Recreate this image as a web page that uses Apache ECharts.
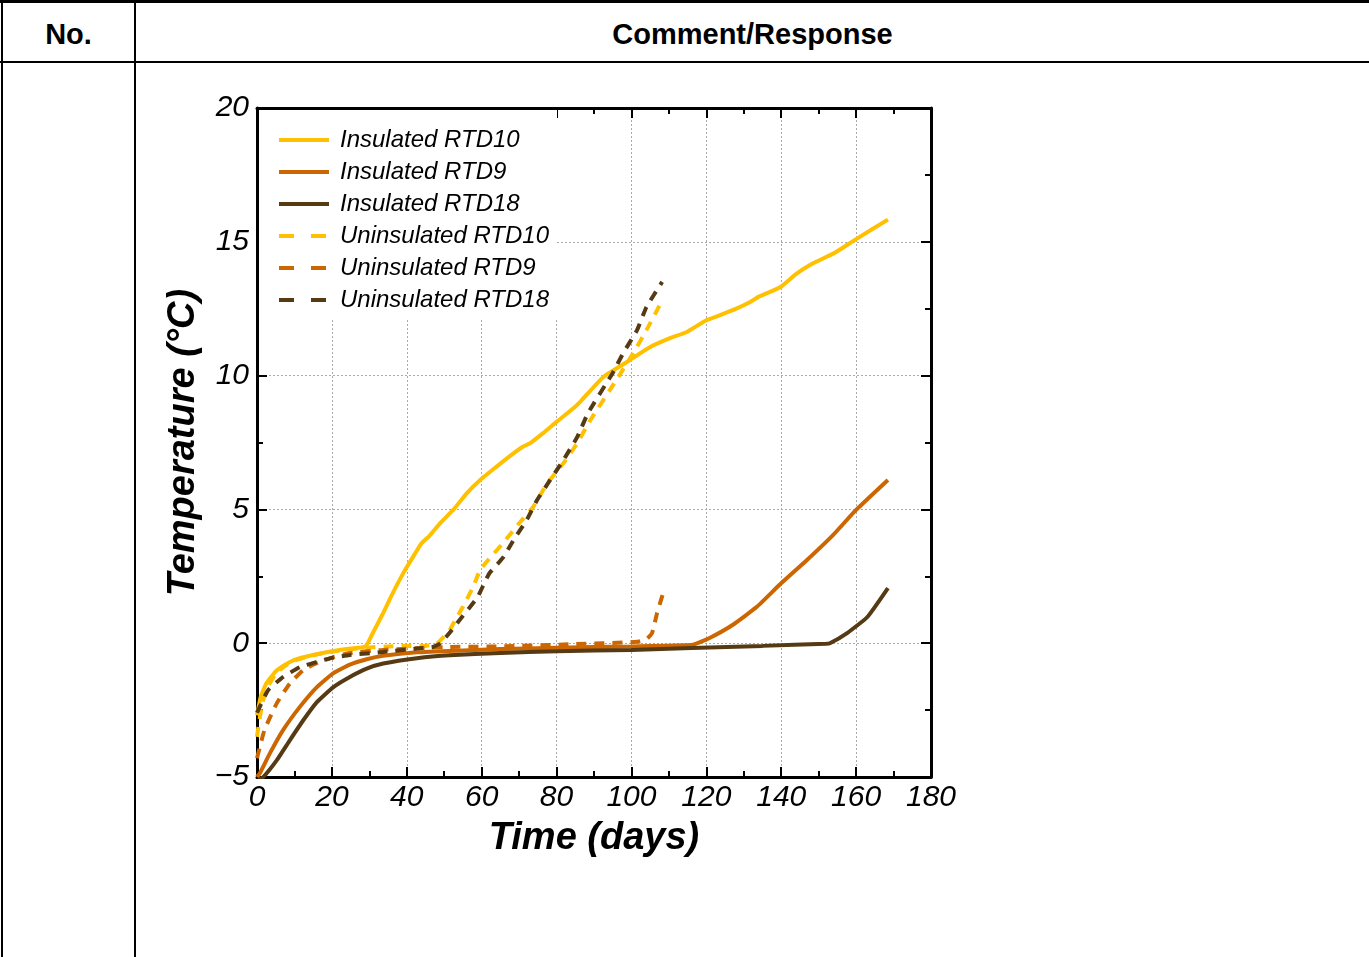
<!DOCTYPE html>
<html>
<head>
<meta charset="utf-8">
<script src="https://cdn.jsdelivr.net/npm/echarts@6/dist/echarts.min.js"></script>
<style>
  html, body { margin: 0; padding: 0; background: #fff; }
  body { width: 1369px; height: 957px; position: relative; overflow: hidden; font-family: Arial, "Liberation Sans", sans-serif; }
  .line { position: absolute; background: #000; }
  .head { position: absolute; top: 14px; font-weight: bold; font-size: 29px; line-height: 40px; text-align: center; }
  #chart { position: absolute; left: 0; top: 0; width: 1369px; height: 957px; }
</style>
</head>
<body>
  <div class="line" style="left:0;top:0;width:1369px;height:3px;"></div>
  <div class="line" style="left:0;top:61px;width:1369px;height:2px;"></div>
  <div class="line" style="left:1px;top:0;width:2px;height:957px;"></div>
  <div class="line" style="left:134px;top:0;width:2px;height:957px;"></div>
  <div class="head" style="left:3px;width:131px;">No.</div>
  <div class="head" style="left:136px;width:1233px;">Comment/Response</div>
  <div id="chart"></div>
<script>
// [day, temperature °C]
const insulatedRTD10 = [
  [0, -2.7], [1, -2.0], [2.5, -1.5], [5, -1.05], [7.5, -0.8], [10, -0.62], [15, -0.44],
  [20, -0.3], [25, -0.2], [29, -0.12], [31, 0.4], [33.7, 1.13], [36, 1.8], [39, 2.6],
  [42, 3.3], [44, 3.74], [46, 4.0], [49, 4.5], [52.4, 4.98], [56, 5.6], [59.6, 6.1],
  [64, 6.6], [67.6, 7.0], [71, 7.34], [73, 7.48], [76.4, 7.85], [80, 8.27], [84.5, 8.78],
  [86.5, 9.05], [92.5, 9.95], [98.7, 10.5], [105, 11.07], [110.3, 11.4], [114.8, 11.63],
  [120, 12.07], [123.7, 12.26], [128, 12.5], [131.7, 12.75], [134, 12.95], [139.7, 13.3],
  [144, 13.8], [148.5, 14.2], [153.8, 14.55], [160, 15.1], [168.5, 15.83]
];
const insulatedRTD9 = [
  [0, -5.0], [0.8, -4.85], [3.5, -4.1], [7, -3.24], [11.5, -2.37], [16, -1.64], [20.4, -1.12],
  [24.8, -0.8], [29.3, -0.6], [33.7, -0.47], [42.7, -0.34], [55, -0.27], [65, -0.22],
  [80, -0.17], [100, -0.12], [116, -0.07], [118, 0.02], [121, 0.2], [127, 0.68],
  [133.5, 1.36], [139.7, 2.2], [146.8, 3.1], [153.9, 4.05], [160, 4.98], [168.5, 6.1]
];
const insulatedRTD18 = [
  [0.5, -5.1], [1.7, -5.0], [5.3, -4.37], [8.8, -3.62], [12.4, -2.87], [16, -2.2],
  [20.4, -1.64], [24.8, -1.26], [29.3, -0.95], [33.7, -0.76], [42.7, -0.56], [51.5, -0.45],
  [65, -0.37], [80, -0.3], [100, -0.25], [116, -0.18], [135, -0.1], [152, -0.02],
  [153, 0.0], [157.6, 0.38], [163, 0.98], [168.5, 2.06]
];
const uninsulatedRTD10 = [
  [0, -3.5], [0.5, -3.0], [1.5, -2.2], [3, -1.6], [5, -1.15], [7.5, -0.85], [10, -0.65],
  [15, -0.45], [20, -0.32], [25, -0.22], [30, -0.16], [35, -0.12], [40, -0.1], [45, -0.1],
  [48, -0.02], [49.8, 0.23], [51.5, 0.5], [53.4, 0.98], [55, 1.36], [57.7, 2.1],
  [59.6, 2.74], [62, 3.15], [65.7, 3.74], [70, 4.48], [73.7, 5.08], [77.5, 5.97],
  [81.8, 6.72], [85.5, 7.47], [89, 8.33], [96, 9.84], [100.5, 10.84], [104, 11.7], [108, 12.75]
];
const uninsulatedRTD9 = [
  [0, -4.3], [2, -3.24], [5.3, -2.24], [8.8, -1.5], [12.4, -1.0], [16, -0.74], [20.4, -0.52],
  [24.8, -0.37], [33.7, -0.25], [51.5, -0.14], [65, -0.12], [83.6, -0.04], [101.5, 0.05],
  [104, 0.15], [105.5, 0.38], [106.8, 1.1], [108.3, 1.8]
];
const uninsulatedRTD18 = [
  [0, -2.6], [1, -2.3], [3, -1.75], [7, -1.26], [11.5, -0.89], [16, -0.7], [20, -0.55],
  [24.8, -0.44], [33.7, -0.33], [42.7, -0.2], [47, -0.14], [49, 0.0], [51.5, 0.4],
  [54, 0.85], [58.8, 1.7], [62, 2.6], [65.7, 3.2], [68.5, 3.85], [72, 4.6], [74.8, 5.35],
  [78.3, 6.1], [81.8, 6.84], [85.5, 7.7], [88.4, 8.6], [95, 10.1], [97.8, 10.84],
  [101.5, 11.7], [104, 12.56], [108.2, 13.5]
];

const seriesNames = ['Insulated RTD10', 'Insulated RTD9', 'Insulated RTD18',
  'Uninsulated RTD10', 'Uninsulated RTD9', 'Uninsulated RTD18'];
const seriesData = [insulatedRTD10, insulatedRTD9, insulatedRTD18,
  uninsulatedRTD10, uninsulatedRTD9, uninsulatedRTD18];
const colors = ['#FFC000', '#CC6600', '#553A14', '#FFC000', '#CC6600', '#553A14'];

const font = 'Arial, "Liberation Sans", sans-serif';
const chart = echarts.init(document.getElementById('chart'));

const baseX = {
  type: 'value', min: 0, max: 180, interval: 20,
  axisLine: { show: true, onZero: false, lineStyle: { color: '#000', width: 3 } },
  axisTick: { show: true, inside: true, length: 10, lineStyle: { color: '#000', width: 2 } },
  minorTick: { show: true, splitNumber: 2, length: 6, lineStyle: { color: '#000', width: 2 } },
};
const baseY = {
  type: 'value', min: -5, max: 20, interval: 5,
  axisLine: { show: true, onZero: false, lineStyle: { color: '#000', width: 3 } },
  axisTick: { show: true, inside: true, length: 10, lineStyle: { color: '#000', width: 2 } },
  minorTick: { show: true, splitNumber: 2, length: 6, lineStyle: { color: '#000', width: 2 } },
};

chart.setOption({
  animation: false,
  color: colors,
  grid: { left: 257, top: 108, right: 438, bottom: 180, containLabel: false },
  legend: {
    orient: 'vertical', left: 259, top: 110,
    padding: [18, 8, 8, 18],
    backgroundColor: '#fff',
    itemWidth: 50, itemHeight: 14, itemGap: 8,
    itemStyle: { opacity: 0 },
    textStyle: { fontFamily: font, fontStyle: 'italic', fontSize: 24, lineHeight: 24, color: '#000', padding: [0, 0, 0, 6] },
    data: seriesNames.map((n, i) => ({
      name: n,
      itemStyle: { opacity: 0 },
      lineStyle: { width: 4, type: i < 3 ? 'solid' : [15, 17] }
    }))
  },
  xAxis: [
    Object.assign({}, baseX, {
      position: 'bottom',
      name: 'Time (days)', nameLocation: 'middle', nameGap: 43,
      nameTextStyle: { fontFamily: font, fontWeight: 'bold', fontStyle: 'italic', fontSize: 38, color: '#000' },
      axisLabel: { margin: 6, fontFamily: font, fontStyle: 'italic', fontSize: 30, color: '#000' },
      splitLine: { show: true, lineStyle: { color: '#aaa', width: 1, type: [2, 2] } }
    }),
    Object.assign({}, baseX, {
      position: 'top', axisLabel: { show: false }, splitLine: { show: false }
    })
  ],
  yAxis: [
    Object.assign({}, baseY, {
      position: 'left',
      name: 'Temperature (°C)', nameLocation: 'middle', nameGap: 54,
      nameTextStyle: { fontFamily: font, fontWeight: 'bold', fontStyle: 'italic', fontSize: 38, color: '#000' },
      axisLabel: {
        margin: 8, fontFamily: font, fontStyle: 'italic', fontSize: 30, color: '#000',
        formatter: v => (v < 0 ? '\u2212' + Math.abs(v) : String(v))
      },
      splitLine: { show: true, lineStyle: { color: '#aaa', width: 1, type: [2, 2] } }
    }),
    Object.assign({}, baseY, {
      position: 'right', axisLabel: { show: false }, splitLine: { show: false }
    })
  ],
  series: seriesNames.map((n, i) => ({
    name: n,
    type: 'line',
    data: seriesData[i],
    showSymbol: false,
    symbol: 'none',
    smooth: 0.15,
    lineStyle: { width: 4, color: colors[i], type: i < 3 ? 'solid' : [10, 8] },
    z: 3 + i
  }))
});
</script>
</body>
</html>
